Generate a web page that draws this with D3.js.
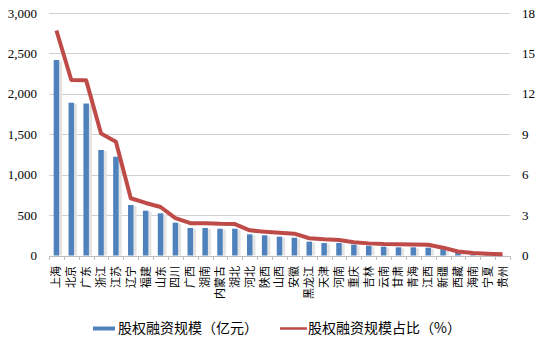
<!DOCTYPE html>
<html><head><meta charset="utf-8">
<script src="https://cdn.jsdelivr.net/npm/d3@7"></script>
<style>body{margin:0;background:#fff}svg{display:block}</style>
</head><body><svg id="c" width="539" height="339"></svg>
<script>
const categories = ["上海","北京","广东","浙江","江苏","辽宁","福建","山东","四川","广西","湖南","内蒙古","湖北","河北","陕西","山西","安徽","黑龙江","天津","河南","重庆","吉林","云南","甘肃","青海","江西","新疆","西藏","海南","宁夏","贵州"];
const amount = [2418,1890,1880,1305,1222,625,554,522,406,340,340,331,331,262,250,233,220,171,155,155,134,121,109,101,101,97,78,40,8,4,2];
const share = [16.7,13.03,13.0,9.05,8.45,4.25,3.9,3.6,2.78,2.4,2.4,2.35,2.33,1.87,1.77,1.69,1.62,1.28,1.2,1.15,0.98,0.9,0.85,0.83,0.82,0.8,0.58,0.3,0.18,0.13,0.1];
const leftTicks = [0,500,1000,1500,2000,2500,3000];
const rightTicks = [0,3,6,9,12,15,18];
const legendLabels = ["股权融资规模（亿元）","股权融资规模占比（%）"];

const svg = d3.select("#c");
const x = d3.scaleBand().domain(categories).range([49,510]).paddingInner(0.63).paddingOuter(0.315);
const step = x.step();
const yL = d3.scaleLinear().domain([0,3000]).range([255.5,13]);
const yR = d3.scaleLinear().domain([0,18]).range([255.5,13]);
const cjk = "'Noto Sans CJK SC','Noto Sans',sans-serif";
const serif = "'Liberation Serif','DejaVu Serif',serif";

// gridlines
svg.append("g").selectAll("line").data(leftTicks.slice(1)).join("line")
  .attr("x1",49).attr("x2",510).attr("y1",d=>Math.round(yL(d))+0.5).attr("y2",d=>Math.round(yL(d))+0.5)
  .attr("stroke","#d0d0d0").attr("stroke-width",1);

// bottom axis
const xb = svg.append("g").attr("transform","translate(0,"+Math.round(yL(0))+")");
xb.append("line").attr("x1",49).attr("x2",510).attr("y1",0.5).attr("y2",0.5).attr("stroke","#bfbfbf");
xb.selectAll("line.t").data(d3.range(categories.length+1)).join("line").attr("class","t")
  .attr("x1",i=>Math.round(49+i*step)+0.5).attr("x2",i=>Math.round(49+i*step)+0.5)
  .attr("y1",0).attr("y2",4).attr("stroke","#bfbfbf");

// bar shadows
svg.append("g").selectAll("rect").data(amount).join("rect")
  .attr("x",(d,i)=>x(categories[i])+x.bandwidth())
  .attr("y",d=>yL(d)+1).attr("width",3).attr("height",d=>yL(0)-yL(d)-1)
  .attr("fill","#e3e3e3");
// bars
svg.append("g").selectAll("rect").data(amount).join("rect")
  .attr("x",(d,i)=>x(categories[i])).attr("y",d=>yL(d))
  .attr("width",x.bandwidth()).attr("height",d=>yL(0)-yL(d))
  .attr("fill","#4f81bd");

// line
const line = d3.line().x((d,i)=>x(categories[i])+x.bandwidth()/2).y(d=>yR(d));
svg.append("path").datum(share).attr("d",line).attr("fill","none")
  .attr("stroke","#be4b48").attr("stroke-width",4).attr("stroke-linejoin","round");

// left axis labels
svg.append("g").selectAll("text").data(leftTicks).join("text")
  .attr("x",37).attr("y",d=>yL(d)).attr("dy","0.35em").attr("text-anchor","end")
  .style("font-family",serif).style("font-size","13px").attr("fill","#000")
  .text(d=>d3.format(",")(d));
// right axis labels
svg.append("g").selectAll("text").data(rightTicks).join("text")
  .attr("x",522).attr("y",d=>yR(d)).attr("dy","0.35em").attr("text-anchor","start")
  .style("font-family",serif).style("font-size","13px").attr("fill","#000")
  .text(d=>d);

// category labels
svg.append("g").selectAll("text").data(categories).join("text")
  .attr("transform",d=>"translate("+(x(d)+x.bandwidth()/2)+",266) rotate(-90)")
  .attr("dy","0.36em").attr("text-anchor","end")
  .style("font-family",cjk).style("font-size","11px").attr("fill","#000")
  .text(d=>d);

// legend
const lg = svg.append("g");
lg.append("rect").attr("x",93).attr("y",326.5).attr("width",22).attr("height",4).attr("fill","#4f81bd");
lg.append("text").attr("x",118).attr("y",328).attr("dy","0.36em")
  .style("font-family",cjk).style("font-size","14px").attr("fill","#000").text(legendLabels[0]);
lg.append("line").attr("x1",280).attr("x2",307).attr("y1",328.5).attr("y2",328.5).attr("stroke","#be4b48").attr("stroke-width",2.5);
lg.append("text").attr("x",308).attr("y",328).attr("dy","0.36em")
  .style("font-family",cjk).style("font-size","14px").attr("fill","#000").text(legendLabels[1]);
</script></body></html>
